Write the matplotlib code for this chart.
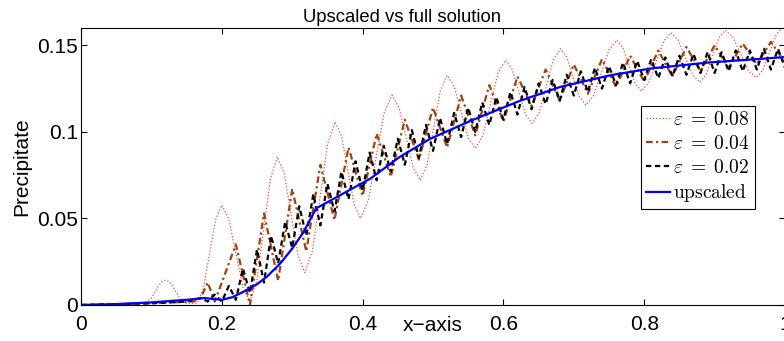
import numpy as np
import matplotlib
matplotlib.use("Agg")
import matplotlib.pyplot as plt

plt.rcParams['font.family'] = ['Liberation Sans', 'DejaVu Sans']
plt.rcParams['mathtext.fontset'] = 'cm'

# eps = 0.08 (peaks, troughs and flanks)
red_x = [0.00, 0.06, 0.09, 0.10, 0.105, 0.11, 0.115, 0.12, 0.125, 0.13, 0.135,
         0.14, 0.15, 0.165,
         0.17375, 0.1825, 0.19125, 0.200,
         0.210, 0.220, 0.230, 0.240,
         0.2498, 0.2595, 0.2693, 0.279,
         0.2888, 0.2985, 0.3083, 0.318,
         0.3288, 0.3395, 0.3503, 0.361,
         0.370, 0.379, 0.388, 0.397,
         0.4082, 0.4194, 0.4305, 0.4417,
         0.4518, 0.4619, 0.4719, 0.482,
         0.4915, 0.501, 0.5105, 0.520,
         0.530, 0.540, 0.550, 0.560,
         0.5708, 0.5815, 0.5923, 0.603,
         0.6125, 0.622, 0.6315, 0.641,
         0.651, 0.661, 0.671, 0.681,
         0.690, 0.699, 0.708, 0.717,
         0.728, 0.739, 0.750, 0.761,
         0.7698, 0.7785, 0.7873, 0.796,
         0.8065, 0.817, 0.8275, 0.838,
         0.8483, 0.8585, 0.8688, 0.879,
         0.888, 0.897, 0.906, 0.915,
         0.926, 0.937, 0.948, 0.959,
         0.9685, 0.978, 0.9875, 0.997, 1.0]
red_y = [0.000, 0.0005, 0.001, 0.004, 0.0075, 0.011, 0.0135, 0.0144, 0.0135, 0.011, 0.0075,
         0.004, 0.001, 0.001,
         0.0093, 0.0294, 0.0494, 0.0577,
         0.0496, 0.0299, 0.0101, 0.002,
         0.0142, 0.0438, 0.0734, 0.0856,
         0.0758, 0.0522, 0.0285, 0.0187,
         0.0314, 0.0623, 0.0931, 0.1058,
         0.0977, 0.0779, 0.0581, 0.050,
         0.0604, 0.0856, 0.1108, 0.1212,
         0.1140, 0.0967, 0.0793, 0.0721,
         0.0809, 0.1024, 0.1239, 0.1327,
         0.1265, 0.1116, 0.0966, 0.0904,
         0.0978, 0.1159, 0.1340, 0.1414,
         0.1361, 0.1231, 0.1101, 0.1048,
         0.1111, 0.1264, 0.1417, 0.1480,
         0.1432, 0.1317, 0.1202, 0.1154,
         0.1209, 0.1342, 0.1474, 0.1529,
         0.1486, 0.1382, 0.1278, 0.1235,
         0.1284, 0.1404, 0.1523, 0.1572,
         0.1530, 0.1430, 0.1329, 0.1287,
         0.1331, 0.1437, 0.1543, 0.1587,
         0.1547, 0.1450, 0.1353, 0.1313,
         0.1356, 0.1459, 0.1562, 0.1605, 0.1606]

# eps = 0.04
brown_x = [0.00, 0.10, 0.16, 0.17, 0.18, 0.19, 0.22, 0.24, 0.26, 0.28, 0.30,
           0.32, 0.34, 0.36, 0.38, 0.40, 0.42, 0.44, 0.46, 0.48, 0.50, 0.52,
           0.54, 0.56, 0.58, 0.60, 0.62, 0.64, 0.66, 0.68, 0.70, 0.72, 0.74,
           0.76, 0.78, 0.80, 0.82, 0.84, 0.86, 0.88, 0.90, 0.92, 0.94, 0.96,
           0.98, 1.00]
brown_y = [0.000, 0.001, 0.002, 0.004, 0.013, 0.002, 0.035, 0.000, 0.053, 0.014,
           0.067, 0.031, 0.081, 0.049, 0.091, 0.063, 0.099, 0.074, 0.107, 0.084,
           0.114, 0.091, 0.121, 0.098, 0.127, 0.106, 0.132, 0.115, 0.136, 0.118,
           0.139, 0.122, 0.142, 0.126, 0.144, 0.129, 0.147, 0.132, 0.149, 0.135,
           0.150, 0.137, 0.151, 0.139, 0.152, 0.140]

# eps = 0.02
black_x = np.r_[[0.00, 0.10, 0.15, 0.17, 0.18], np.arange(0.19, 1.001, 0.01)]
black_y = [0.000, 0.001, 0.002, 0.004, 0.002,
           0.006, 0.002, 0.011, 0.003, 0.021, 0.007, 0.032, 0.013, 0.040, 0.024,
           0.048, 0.033, 0.057, 0.040, 0.064, 0.046, 0.070, 0.054, 0.077, 0.061,
           0.083, 0.066, 0.088, 0.072, 0.092, 0.077, 0.096, 0.081, 0.101, 0.085,
           0.104, 0.089, 0.108, 0.093, 0.111, 0.097, 0.114, 0.100, 0.117, 0.104,
           0.120, 0.107, 0.123, 0.110, 0.126, 0.113, 0.128, 0.116, 0.130, 0.118,
           0.133, 0.121, 0.135, 0.123, 0.137, 0.125, 0.138, 0.127, 0.140, 0.128,
           0.141, 0.130, 0.142, 0.131, 0.143, 0.132, 0.144, 0.133, 0.145, 0.134,
           0.146, 0.134, 0.146, 0.135, 0.147, 0.135, 0.147, 0.136, 0.148, 0.136,
           0.148, 0.137]

# upscaled
blue_x = [0.00, 0.05, 0.10, 0.15, 0.175, 0.20, 0.215, 0.236, 0.250, 0.264,
          0.283, 0.299, 0.316, 0.334, 0.364, 0.411, 0.453, 0.496, 0.557,
          0.624, 0.681, 0.752, 0.809, 0.890, 1.00]
blue_y = [0.000, 0.0005, 0.0015, 0.003, 0.004, 0.003, 0.0045, 0.0087, 0.012,
          0.0163, 0.024, 0.032, 0.042, 0.0558, 0.0625, 0.073, 0.0856, 0.096,
          0.107, 0.118, 0.126, 0.1327, 0.1366, 0.140, 0.1432]

labels = [r'$\varepsilon \;=\; 0.08$', r'$\varepsilon \;=\; 0.04$',
          r'$\varepsilon \;=\; 0.02$', r'$\mathrm{upscaled}$']
xticks = [0, 0.2, 0.4, 0.6, 0.8, 1]
xticklabels = ['0', '0.2', '0.4', '0.6', '0.8', '1']
yticks = [0, 0.05, 0.1, 0.15]
yticklabels = ['0', '0.05', '0.1', '0.15']

fig = plt.figure(figsize=(7.84, 3.41), dpi=100)
ax = fig.add_axes([81 / 784, 36 / 341, 704 / 784, 277 / 341])

ax.plot(red_x, red_y, color='#ff4444', lw=0.9, dashes=(1, 1.6), label=labels[0])
ax.plot(brown_x, brown_y, color='#a3420c', lw=1.6, dashes=(3, 1.5, 1, 1.5), label=labels[1])
ax.plot(black_x, black_y, color='black', lw=1.6, dashes=(2.4, 1.6), label=labels[2])
ax.plot(blue_x, blue_y, color='#0000ff', lw=1.6, label=labels[3])

ax.set_xlim(0, 1)
ax.set_ylim(0, 0.16)
ax.set_xticks(xticks)
ax.set_xticklabels(xticklabels)
ax.set_yticks(yticks)
ax.set_yticklabels(yticklabels)
ax.tick_params(direction='in', length=4, width=0.8, top=True, right=True,
               labelsize=15)
ax.tick_params(axis='x', pad=7)
ax.tick_params(axis='y', pad=2)
for s in ax.spines.values():
    s.set_linewidth(0.8)

ax.set_title('Upscaled vs full solution', fontsize=13.3, x=0.456, pad=4)
ax.set_xlabel('x\u2212axis', fontsize=15)
ax.xaxis.set_label_coords(0.5, -0.04)
ax.set_ylabel('Precipitate', fontsize=15, va='center')
ax.yaxis.set_label_coords(-0.084, 0.5)

ax.legend(loc='upper right', bbox_to_anchor=(0.957, 0.718), fontsize=14,
          fancybox=False, framealpha=1, edgecolor='black', handlelength=1.2,
          handletextpad=0.2, borderpad=0.25, labelspacing=0.3,
          borderaxespad=0)
ax.get_legend().get_frame().set_linewidth(0.8)

fig.savefig('out.png', dpi=100)
